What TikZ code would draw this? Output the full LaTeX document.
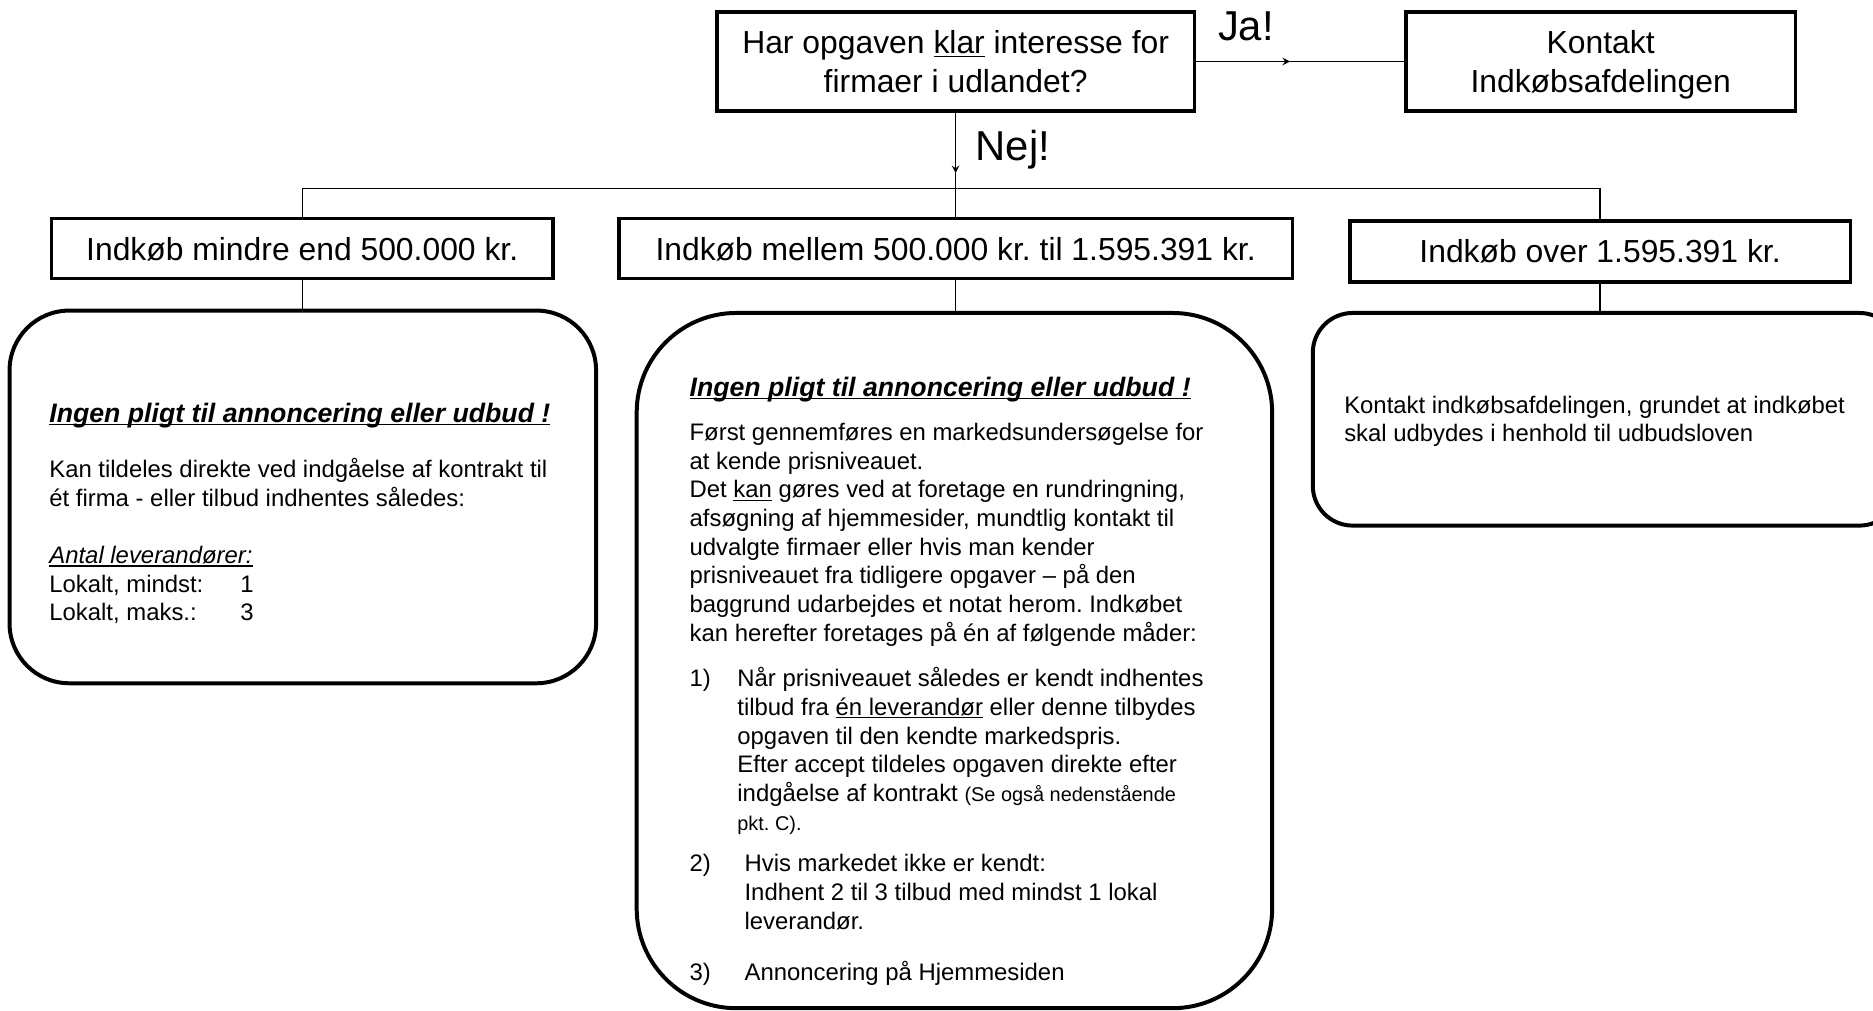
\documentclass[tikz,border=0pt]{standalone}
\usepackage{fontspec}
\setmainfont{Liberation Sans}
\frenchspacing

\tikzset{
  boks/.style={draw, line width=1.8pt, inner sep=0pt, align=center, text depth=0pt, font=\fontsize{16}{19.2}\selectfont},
  rundboks/.style={draw, line width=2pt, rounded corners=#1},
  tekst/.style={anchor=north west, inner sep=0pt, align=left, font=\fontsize{12}{14.4}\selectfont},
  forb/.style={line width=0.7pt},
  svar/.style={font=\fontsize{21}{25}\selectfont},
}
\newcommand{\understreg}[1]{\setbox0=\hbox{#1}\rlap{\rule[-1.5pt]{\wd0}{0.7pt}}\box0\relax}
\newcommand{\overskrift}[1]{{\fontsize{13.4}{16}\selectfont\bfseries\itshape\understreg{#1}}}
\newcommand{\lille}{\fontsize{10}{14.4}\selectfont}

\begin{document}
\begin{tikzpicture}[>=stealth, x=0.6pt, y=-0.6pt]
    \useasboundingbox (0,0) rectangle (1568,846);

    % Spoergsmaal
    \node[boks, minimum width=240pt, minimum height=49.8pt] (q) at (800,51.5)
        {Har opgaven \understreg{klar} interesse for\\firmaer i udlandet?};
    \node[boks, minimum width=195.6pt, minimum height=49.8pt] (k) at (1340,51.5)
        {Kontakt\\Indkøbsafdelingen};
    \node[svar] (ja) at (1043,22) {Ja!};
    \node[svar] (nej) at (848,125) {Nej!};

    % Beloebsgraenser
    \node[boks, minimum width=252pt, minimum height=30pt] (a) at (253,208) {Indkøb mindre end 500.000 kr.};
    \node[boks, minimum width=338.4pt, minimum height=30pt] (b) at (800,208) {Indkøb mellem 500.000 kr. til 1.595.391 kr.};
    \node[boks, minimum width=251.4pt, minimum height=30.6pt] (c) at (1339.5,210.5) {Indkøb over 1.595.391 kr.};

    % Forklaringer
    \node[rundboks=30pt, minimum width=294.6pt, minimum height=187.2pt] (ra) at (253.5,416) {};
    \node[rundboks=50pt, minimum width=319.2pt, minimum height=349.2pt] (rb) at (799,553) {};
    \node[rundboks=20pt, minimum width=294.6pt, minimum height=106.8pt] (rc) at (1344.5,351) {};

    % Forbindelser
    \coordinate (jatip) at (1080,51.5);
    \coordinate (nejtip) at (800,145);
    \coordinate (bus) at (800,158);
    \draw[forb, ->] (q.east) -- (jatip);
    \draw[forb] (jatip) -- (k.west);
    \draw[forb, ->] (q.south) -- (nejtip);
    \draw[forb] (nejtip) -- (b.north);
    \draw[forb] (a.north) |- (bus) -| (c.north);
    \draw[forb] (a.south) -- (a.south |- ra.north);
    \draw[forb] (b.south) -- (b.south |- rb.north);
    \draw[forb] (c.south) -- (c.south |- rc.north);

    % Tekster
    \node[tekst] (ta) at (41,337) {\overskrift{Ingen pligt til annoncering eller udbud !}\\[13.4pt]
        Kan tildeles direkte ved indgåelse af kontrakt til\\
        ét firma - eller tilbud indhentes således:\\[14.4pt]
        \textit{\understreg{Antal leverandører:}}\\
        \makebox[96pt][l]{Lokalt, mindst:}1\\
        \makebox[96pt][l]{Lokalt, maks.:}3};
    \node[tekst] (tb) at (577,315) {\overskrift{Ingen pligt til annoncering eller udbud !}\\[8pt]
        Først gennemføres en markedsundersøgelse for\\
        at kende prisniveauet.\\
        Det \understreg{kan} gøres ved at foretage en rundringning,\\
        afsøgning af hjemmesider, mundtlig kontakt til\\
        udvalgte firmaer eller hvis man kender\\
        prisniveauet fra tidligere opgaver – på den\\
        baggrund udarbejdes et notat herom. Indkøbet\\
        kan herefter foretages på én af følgende måder:\\[8.4pt]
        \makebox[24pt][l]{1)}Når prisniveauet således er kendt indhentes\\
        \hspace*{24pt}tilbud fra \understreg{én leverandør} eller denne tilbydes\\
        \hspace*{24pt}opgaven til den kendte markedspris.\\
        \hspace*{24pt}Efter accept tildeles opgaven direkte efter\\
        \hspace*{24pt}indgåelse af kontrakt {\lille (Se også nedenstående}\\
        \hspace*{24pt}{\lille pkt. C).}\\[6.6pt]
        \makebox[27.6pt][l]{2)}Hvis markedet ikke er kendt:\\
        \hspace*{27.6pt}Indhent 2 til 3 tilbud med mindst 1 lokal\\
        \hspace*{27.6pt}leverandør.\\[11.4pt]
        \makebox[27.6pt][l]{3)}Annoncering på Hjemmesiden};
    \node[tekst] (tc) at (1125,331) {Kontakt indkøbsafdelingen, grundet at indkøbet\\
        skal udbydes i henhold til udbudsloven};
\end{tikzpicture}
\end{document}
